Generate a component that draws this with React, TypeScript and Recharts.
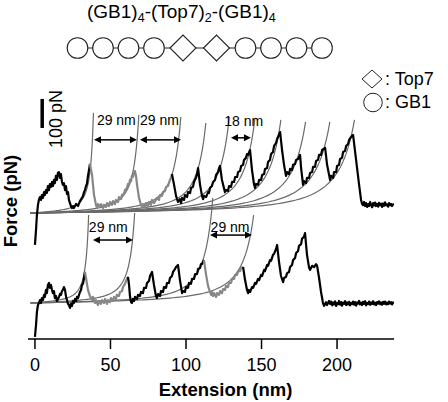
import { LineChart, Line, XAxis, YAxis, ReferenceLine, ReferenceDot } from "recharts";

const FONT = '"Liberation Sans", Arial, Helvetica, sans-serif';

const X_TICKS = [0, 50, 100, 150, 200];

// the two recordings are stacked: force offset of each baseline (pN)
const TOP_BASE = 434;
const BOTTOM_BASE = 124;

// [extension nm, force pN above baseline]
const TOP_BLACK_1 = [
  [0, -110], [0.7, -59], [1.3, -7], [2.0, 28], [2.6, 45], [3.3, 55], [4.0, 45], [4.6, 62], [5.3, 52], [6.0, 72],
  [6.6, 62], [7.3, 79], [7.9, 69], [8.6, 93], [9.3, 79], [9.9, 100], [10.6, 90], [11.3, 107], [11.9, 93], [12.6, 114],
  [13.2, 103], [13.9, 128], [14.6, 114], [15.2, 138], [15.9, 141], [16.6, 121], [17.2, 134], [17.9, 107], [18.5, 97],
  [19.2, 103], [19.9, 79], [20.5, 93], [21.2, 66], [21.9, 72], [22.5, 45], [23.2, 34], [23.8, 24], [24.5, 17], [25.2, 24],
  [25.8, 17], [27.2, 31], [28.5, 24], [29.8, 41], [31.1, 52], [31.8, 59], [32.5, 72], [33.1, 79], [33.8, 93], [34.4, 100],
  [35.1, 128], [35.8, 148], [36.4, 169],
];

const TOP_GRAY = [
  [36.4, 169], [37.8, 131], [39.1, 62], [40.4, 28], [41.1, 17], [41.7, 31], [43.0, 21], [43.7, 31], [45.0, 17], [45.7, 28],
  [47.0, 21], [47.7, 34], [49.0, 24], [49.7, 38], [51.0, 28], [51.7, 41], [53.0, 31], [53.6, 45], [55.0, 38], [55.6, 55],
  [57.0, 48], [57.6, 62], [58.9, 66], [59.6, 79], [60.9, 86], [61.6, 100], [62.3, 97], [62.9, 114], [63.6, 110], [64.2, 128],
  [64.9, 124], [65.6, 138], [66.2, 145], [66.9, 128], [67.6, 97], [68.9, 52], [70.2, 28], [70.9, 21], [71.5, 31], [72.9, 21],
  [73.5, 34], [74.8, 24], [75.5, 38], [76.8, 28], [77.5, 45], [78.8, 34], [80.8, 52], [82.1, 45], [82.8, 62], [84.1, 59],
  [84.8, 72], [86.1, 76], [86.8, 90], [88.1, 93], [89.4, 114], [90.1, 121], [90.7, 134],
];

const TOP_BLACK_2 = [
  [90.7, 134], [92.1, 97], [93.4, 59], [94.7, 38], [96.0, 48], [96.7, 34], [97.4, 52], [98.7, 45], [99.3, 62], [100.7, 55],
  [101.3, 72], [102.7, 69], [103.3, 86], [104.6, 90], [105.3, 107], [106.6, 121], [107.3, 134], [108.0, 155],
  [109.3, 97], [110.6, 59], [111.3, 48],
  [111.9, 59], [113.3, 55], [114.6, 72], [115.2, 69], [115.9, 86], [117.2, 93], [117.9, 107], [119.2, 114], [119.9, 131],
  [121.2, 141], [121.9, 155], [122.5, 162],
  [123.8, 114], [125.8, 72],
  [126.5, 79], [127.8, 76], [128.5, 93], [129.8, 90], [130.5, 107], [131.8, 107], [132.5, 124], [133.8, 124], [134.5, 141],
  [135.8, 145], [136.5, 162], [137.8, 166], [138.4, 183], [139.7, 190], [140.4, 203], [141.1, 200], [142.4, 217],
  [143.7, 148], [145.0, 100], [145.7, 86],
  [146.4, 100], [147.7, 97], [148.4, 114], [149.7, 114], [150.4, 131], [151.7, 134], [152.3, 152], [153.7, 155], [154.3, 176],
  [155.6, 183], [156.3, 203], [157.6, 210], [158.3, 231], [159.6, 241], [160.3, 255], [160.9, 262], [162.3, 279],
  [163.6, 217], [164.9, 166], [166.2, 128],
  [166.9, 141], [168.2, 134], [168.9, 152], [170.2, 148], [170.9, 166], [172.2, 169], [172.9, 183], [174.2, 186], [175.5, 200],
  [176.2, 155], [177.5, 97],
  [178.1, 110], [179.5, 103], [180.1, 121], [181.5, 121], [182.1, 138], [183.5, 141], [184.1, 159], [185.4, 159], [186.1, 179],
  [187.4, 183], [188.1, 200], [189.4, 200], [190.1, 217], [192.1, 224],
  [193.4, 166], [195.4, 114],
  [196.0, 128], [197.4, 121], [198.0, 141], [199.4, 141], [200.0, 162], [201.3, 166], [202.0, 186], [203.3, 190], [204.0, 210],
  [205.3, 214], [206.0, 231], [207.3, 238], [208.0, 252], [209.3, 262], [210.6, 269],
  [212.6, 183], [214.6, 97], [215.9, 45], [216.6, 31],
  [217.3, 27], [217.9, 38], [218.6, 24], [219.2, 34], [219.9, 21], [220.6, 31], [221.2, 24], [221.9, 38], [222.5, 28],
  [223.2, 20], [223.9, 34], [224.5, 26], [225.2, 36], [225.8, 24], [226.5, 31], [227.2, 22], [227.8, 35], [228.5, 27],
  [229.1, 32], [229.8, 21], [230.5, 33], [231.1, 25], [231.8, 37], [232.5, 26], [233.1, 30], [233.8, 22], [234.4, 34],
  [235.1, 27], [235.8, 31], [236.4, 24], [237.1, 30], [237.6, 27],
];

const BOTTOM_BLACK_1 = [
  [0, -117], [0.7, -76], [1.3, -31], [2.0, -7], [2.6, 0], [3.3, 10], [4.0, 0], [4.6, 17], [5.3, 10], [6.0, 28], [6.6, 21],
  [7.3, 45], [7.9, 34], [8.6, 62], [9.3, 69], [9.9, 52], [10.6, 62], [11.3, 45], [11.9, 34], [12.6, 41], [13.2, 17],
  [13.9, 24], [14.6, 7], [15.2, 14], [15.9, 21], [16.6, 31], [17.2, 28], [17.9, 41], [18.5, 45], [19.2, 55], [19.9, 45],
  [20.5, 24], [21.2, 10], [21.9, -3], [22.5, -7], [23.2, -17], [23.8, -3], [24.5, -10], [25.2, 7], [25.8, 0], [26.5, 14],
  [27.2, 7], [27.8, 21], [28.5, 17], [29.8, 38], [30.5, 45], [31.1, 62], [31.8, 66], [32.5, 86], [33.1, 107],
];

const BOTTOM_GRAY_1 = [
  [33.1, 107], [33.8, 86], [35.1, 45], [36.4, 24], [37.8, 10], [38.4, 21], [39.7, 0], [40.4, 10], [41.7, -7], [42.4, 7],
  [43.7, -3], [44.4, 10], [45.7, 0], [46.4, 14], [47.7, -3], [48.3, 10], [49.7, 3], [50.3, 17], [51.7, 7], [52.3, 21],
  [53.6, 14], [54.3, 28], [55.6, 24], [56.3, 38], [57.6, 41], [58.3, 55], [59.6, 66], [60.3, 76], [60.9, 83], [61.6, 90],
];

const BOTTOM_BLACK_2 = [
  [61.6, 90], [62.3, 62], [62.9, 24], [63.6, 3], [64.2, 0], [64.9, 14], [65.6, 7], [66.2, 21], [67.6, 14], [68.2, 28],
  [69.5, 24], [70.2, 38], [71.5, 34], [72.2, 52], [73.5, 52], [74.2, 69], [75.5, 76], [76.2, 93], [76.8, 100], [77.5, 107],
  [78.8, 62], [80.1, 24], [80.8, 17], [81.5, 31], [82.8, 24], [83.4, 41], [84.8, 38], [85.4, 55], [86.8, 52], [87.4, 69],
  [88.7, 69], [89.4, 86], [90.7, 93], [91.4, 107], [92.7, 117], [93.4, 124], [94.7, 131],
  [96.0, 79], [97.4, 34], [98.0, 41], [99.3, 38], [100.0, 55], [101.3, 52], [102.0, 69], [103.3, 66], [104.0, 83],
  [105.3, 83], [106.0, 100], [107.3, 100], [108.0, 117], [109.3, 121], [109.9, 134], [110.6, 134], [111.9, 148],
];

const BOTTOM_GRAY_2 = [
  [111.9, 148], [113.3, 97], [114.6, 59], [115.9, 38], [116.6, 28], [117.2, 38], [117.9, 24], [118.6, 34], [119.9, 21],
  [120.5, 34], [121.9, 28], [122.5, 41], [123.8, 34], [124.5, 48], [125.8, 45], [126.5, 59], [127.8, 55], [128.5, 69],
  [129.8, 69], [130.5, 83], [131.8, 83], [132.5, 97], [133.8, 97], [134.5, 110], [135.8, 110], [136.5, 121], [137.8, 124],
];

const BOTTOM_BLACK_3 = [
  [137.8, 124], [139.1, 79], [140.4, 45], [141.1, 34], [141.7, 45], [142.4, 38], [143.7, 55], [144.4, 52], [145.7, 69],
  [146.4, 66], [147.7, 83], [148.4, 79], [149.7, 97], [150.4, 93], [151.7, 114], [152.3, 110], [153.7, 131], [154.3, 128],
  [155.6, 148], [156.3, 145], [157.6, 166], [158.3, 169], [159.6, 186], [160.3, 200],
  [161.6, 141], [162.9, 93], [164.3, 72],
  [164.9, 86], [166.2, 90], [166.9, 103], [168.2, 107], [168.9, 124], [170.2, 131], [170.9, 148], [172.2, 155], [172.9, 172],
  [174.2, 179], [174.8, 197], [176.2, 203], [176.8, 221], [178.1, 228], [178.8, 241],
  [180.1, 166], [181.5, 121], [182.1, 114], [183.5, 128], [184.8, 124], [186.1, 134], [186.8, 128],
  [188.1, 86], [189.4, 38], [190.7, 0], [191.4, -10], [192.7, 3], [193.4, -7], [194.7, 7],
  [195.4, -3], [196.0, 5], [196.7, -8], [197.4, 2], [198.0, -5], [198.7, 6], [199.4, -10], [200.0, 0], [200.7, -4],
  [201.3, 7], [202.0, -6], [202.7, 3], [203.3, -9], [204.0, 1], [204.6, -3], [205.3, 6], [206.0, -7], [206.6, 2],
  [207.3, -5], [208.0, 4], [208.6, -8], [209.3, 0], [209.9, -4], [210.6, 5], [211.3, -6], [211.9, 3], [212.6, -9],
  [213.3, 2], [213.9, -2], [214.6, 7], [215.2, -5], [215.9, 1], [216.6, -7], [217.2, 4], [217.9, -3], [218.6, 6],
  [219.2, -8], [219.9, 0], [220.5, -4], [221.2, 5], [221.9, -6], [222.5, 2], [223.2, -3], [223.9, 6], [224.5, -5],
  [225.2, 1], [225.8, -7], [226.5, 3], [227.2, -2], [227.8, 6], [228.5, -4], [229.1, 2], [229.8, -6], [230.5, 4],
  [231.1, -3], [231.8, 5], [232.5, -5], [233.1, 1], [233.8, -4], [234.4, 5], [235.1, -2], [235.8, 3], [236.4, -5],
  [237.1, 2], [237.6, -1],
];

// worm-like-chain fits: contour length (nm) and force where each drawn curve stops (pN)
const TOP_FIT_L = [45.7, 78.7, 109.3, 127.9, 144.5, 163.3, 182.3, 200.5, 218.2, 235.9];
const TOP_FIT_FMAX = [345, 338, 331, 310, 331, 328, 321, 314, 314, 321];
const BOTTOM_FIT_L = [42.5, 76, 132, 163];
const BOTTOM_FIT_FMAX = [303, 310, 362, 303];
const FIT_X0 = -3;
const KT_OVER_P = 10.3; // pN, persistence length ~0.4 nm

// spacing annotations [from nm, to nm, force pN]
const ARROWS = [
  [39.1, 67.5, 686],
  [69.5, 96.7, 686],
  [129.8, 143.0, 693],
  [38.4, 64.9, 341],
  [115.9, 143.7, 358],
];
const ARROW_LABELS = [
  { x: 41.0, y: 737, text: "29 nm" },
  { x: 69.5, y: 737, text: "29 nm" },
  { x: 125.3, y: 734, text: "18 nm" },
  { x: 35.7, y: 369, text: "29 nm" },
  { x: 116.3, y: 369, text: "29 nm" },
];

const BLACK = "#000";
const GRAY = "#878787";
const FIT = "#6a6a6a";

function toPoints(rows: number[][], base: number) {
  return rows.map(([x, f]) => ({ x, y: f + base }));
}

function wlc(r: number) {
  return KT_OVER_P * (1 / (4 * (1 - r) * (1 - r)) - 0.25 + r);
}

function fitCurve(L: number, fMax: number, base: number) {
  let lo = 0;
  let hi = 0.999;
  for (let i = 0; i < 50; i++) {
    const m = (lo + hi) / 2;
    if (wlc(m) < fMax) lo = m;
    else hi = m;
  }
  const pts = [];
  const n = 80;
  for (let i = 0; i <= n; i++) {
    const t = i / n;
    const r = lo * (1 - (1 - t) * (1 - t));
    pts.push({ x: FIT_X0 + r * L, y: base + wlc(r) });
  }
  return pts;
}

function ArrowShape(props: any) {
  const { x1, x2, y1 } = props;
  const h = 7;
  const w = 3.5;
  return (
    <g>
      <line x1={x1 + h - 1} y1={y1} x2={x2 - h + 1} y2={y1} stroke={BLACK} strokeWidth={1.5} />
      <polygon points={`${x1},${y1} ${x1 + h},${y1 - w} ${x1 + h},${y1 + w}`} fill={BLACK} />
      <polygon points={`${x2},${y1} ${x2 - h},${y1 - w} ${x2 - h},${y1 + w}`} fill={BLACK} />
    </g>
  );
}

const traces = [
  { key: "tb1", rows: TOP_BLACK_1, base: TOP_BASE, color: BLACK },
  { key: "tg", rows: TOP_GRAY, base: TOP_BASE, color: GRAY },
  { key: "tb2", rows: TOP_BLACK_2, base: TOP_BASE, color: BLACK },
  { key: "bb1", rows: BOTTOM_BLACK_1, base: BOTTOM_BASE, color: BLACK },
  { key: "bg1", rows: BOTTOM_GRAY_1, base: BOTTOM_BASE, color: GRAY },
  { key: "bb2", rows: BOTTOM_BLACK_2, base: BOTTOM_BASE, color: BLACK },
  { key: "bg2", rows: BOTTOM_GRAY_2, base: BOTTOM_BASE, color: GRAY },
  { key: "bb3", rows: BOTTOM_BLACK_3, base: BOTTOM_BASE, color: BLACK },
];

const fits = [
  ...TOP_FIT_L.map((L, i) => fitCurve(L, TOP_FIT_FMAX[i], TOP_BASE)),
  ...BOTTOM_FIT_L.map((L, i) => fitCurve(L, BOTTOM_FIT_FMAX[i], BOTTOM_BASE)),
];

const CIRCLES_LEFT = [77.5, 103, 128.5, 154];
const DIAMONDS = [183, 216.5];
const CIRCLES_RIGHT = [245.5, 271, 296.5, 322];

function diamond(cx: number, cy: number, hw: number, hh: number) {
  return `${cx - hw},${cy} ${cx},${cy - hh} ${cx + hw},${cy} ${cx},${cy + hh}`;
}

export default function App() {
  return (
    <div style={{ position: "absolute", left: 0, top: 0, width: 448, height: 402, background: "#fff" }}>
      <LineChart width={448} height={402} margin={{ top: 85, right: 54, bottom: 23, left: 28 }}>
        <XAxis
          type="number"
          dataKey="x"
          domain={[-4.6, 237.7]}
          allowDataOverflow
          ticks={X_TICKS}
          interval={0}
          height={40}
          tickSize={10}
          tickMargin={9}
          axisLine={{ stroke: BLACK, strokeWidth: 1.5 }}
          tickLine={{ stroke: BLACK, strokeWidth: 1.5 }}
          tick={{ fill: BLACK, fontSize: 18, fontFamily: FONT }}
        />
        <YAxis
          type="number"
          domain={[0, 875]}
          allowDataOverflow
          width={0}
          tick={false}
          tickLine={false}
          axisLine={{ stroke: BLACK, strokeWidth: 1.5 }}
        />
        {fits.map((pts, i) => (
          <Line
            key={`fit${i}`}
            data={pts}
            dataKey="y"
            type="linear"
            stroke={FIT}
            strokeWidth={1.2}
            dot={false}
            activeDot={false}
            isAnimationActive={false}
          />
        ))}
        {traces.map((t) => (
          <Line
            key={t.key}
            data={toPoints(t.rows, t.base)}
            dataKey="y"
            type="linear"
            stroke={t.color}
            strokeWidth={2.2}
            strokeLinejoin="round"
            dot={false}
            activeDot={false}
            isAnimationActive={false}
          />
        ))}
        <ReferenceLine
          segment={[{ x: 4.8, y: 727 }, { x: 4.8, y: 827 }]}
          stroke={BLACK}
          strokeWidth={3.5}
        />
        {ARROWS.map(([a, b, f], i) => (
          <ReferenceLine key={`arr${i}`} segment={[{ x: a, y: f }, { x: b, y: f }]} shape={ArrowShape} />
        ))}
        {ARROW_LABELS.map((l, i) => (
          <ReferenceDot
            key={`lab${i}`}
            x={l.x}
            y={l.y}
            shape={(p: any) => (
              <text x={p.cx} y={p.cy} fontSize={14} fontFamily={FONT} fill={BLACK}>
                {l.text}
              </text>
            )}
          />
        ))}
      </LineChart>
      <svg
        width={448}
        height={402}
        style={{ position: "absolute", left: 0, top: 0, pointerEvents: "none" }}
        fontFamily={FONT}
      >
        <text x={87} y={18} fontSize={19} fill={BLACK}>
          (GB1)<tspan fontSize={12.5} dy={4}>4</tspan>
          <tspan dy={-4}>-(Top7)</tspan>
          <tspan fontSize={12.5} dy={4}>2</tspan>
          <tspan dy={-4}>-(GB1)</tspan>
          <tspan fontSize={12.5} dy={4}>4</tspan>
        </text>
        <line x1={77.5} y1={48} x2={322} y2={48} stroke="#222" strokeWidth={1.1} />
        {[...CIRCLES_LEFT, ...CIRCLES_RIGHT].map((cx) => (
          <circle key={cx} cx={cx} cy={48} r={10.3} fill="#fff" stroke="#222" strokeWidth={1.1} />
        ))}
        {DIAMONDS.map((cx) => (
          <polygon key={cx} points={diamond(cx, 48, 13, 13)} fill="#fff" stroke="#222" strokeWidth={1.1} />
        ))}
        <polygon points={diamond(372, 79, 10, 9)} fill="#fff" stroke="#222" strokeWidth={1} />
        <text x={385} y={85} fontSize={18} fill={BLACK}>: Top7</text>
        <circle cx={373} cy={102.5} r={9.3} fill="#fff" stroke="#222" strokeWidth={1} />
        <text x={385} y={108} fontSize={18} fill={BLACK}>: GB1</text>
        <text
          x={17}
          y={201}
          transform="rotate(-90 17 201)"
          textAnchor="middle"
          fontSize={18.5}
          fontWeight="bold"
          fill={BLACK}
        >
          Force (pN)
        </text>
        <text x={62} y={119} transform="rotate(-90 62 119)" textAnchor="middle" fontSize={18} fill={BLACK}>
          100 pN
        </text>
        <text x={225.5} y={396} textAnchor="middle" fontSize={18.5} fontWeight="bold" fill={BLACK}>
          Extension (nm)
        </text>
      </svg>
    </div>
  );
}
